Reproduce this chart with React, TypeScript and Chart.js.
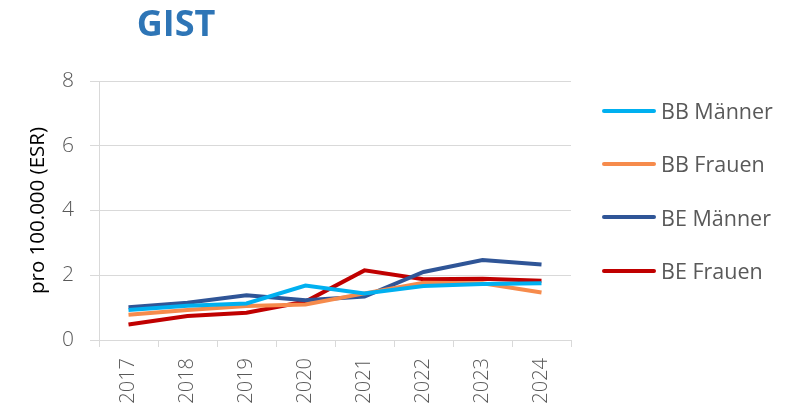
import React, { useEffect, useRef } from "react";
import { Chart, registerables } from "chart.js";

Chart.register(...registerables);

const years = ["2017", "2018", "2019", "2020", "2021", "2022", "2023", "2024"];
const bbMaenner = [0.93, 1.06, 1.13, 1.68, 1.44, 1.67, 1.73, 1.75];
const bbFrauen = [0.78, 0.93, 1.05, 1.1, 1.44, 1.77, 1.75, 1.47];
const beMaenner = [1.01, 1.15, 1.38, 1.23, 1.34, 2.1, 2.47, 2.33];
const beFrauen = [0.48, 0.74, 0.84, 1.19, 2.15, 1.88, 1.89, 1.83];
const seriesNames = ["BB Männer", "BB Frauen", "BE Männer", "BE Frauen"];
const seriesColors = ["#00B0F0", "#F68B4C", "#2F5597", "#C00000"];
const title = "GIST";
const yTitle = "pro 100.000 (ESR)";

const FONT = "'Open Sans', 'Noto Sans', sans-serif";

export default function App() {
  const ref = useRef<HTMLCanvasElement | null>(null);
  useEffect(() => {
    if (!ref.current) return;
    const values = [bbMaenner, bbFrauen, beMaenner, beFrauen];
    const chart = new Chart(ref.current, {
      type: "line",
      data: {
        labels: years,
        datasets: values.map((v, i) => ({
          label: seriesNames[i],
          data: v,
          borderColor: seriesColors[i],
          backgroundColor: seriesColors[i],
          borderWidth: 4,
          pointRadius: 0,
          tension: 0,
          fill: false,
        })),
      },
      options: {
        responsive: false,
        animation: false,
        layout: { padding: { top: 81, right: 226, left: 0, bottom: 0 } },
        plugins: {
          legend: { display: false },
          title: { display: false },
          tooltip: { enabled: false },
        },
        scales: {
          x: {
            offset: true,
            grid: {
              display: true,
              drawOnChartArea: false,
              drawTicks: true,
              tickLength: 7,
              color: "#d9d9d9",
              offset: true,
            },
            border: { display: true, color: "#d9d9d9" },
            ticks: {
              minRotation: 90,
              maxRotation: 90,
              padding: 11,
              color: "#595959",
              font: { family: FONT, size: 20, weight: "300" },
            },
            afterFit: (s: any) => {
              s.height = 70;
            },
          },
          y: {
            min: 0,
            max: 8,
            ticks: {
              stepSize: 2,
              padding: 16,
              color: "#595959",
              font: { family: FONT, size: 21, weight: "300" },
            },
            grid: { color: "#d9d9d9", tickLength: 9, drawTicks: true },
            border: { display: true, color: "#d9d9d9" },
            title: {
              display: true,
              text: yTitle,
              color: "#000000",
              padding: { top: 26, bottom: 4 },
              font: { family: FONT, size: 20.5 },
            },
            afterFit: (s: any) => {
              s.width = 99;
            },
          },
        },
      },
    });
    return () => chart.destroy();
  }, []);

  return (
    <div style={{ position: "absolute", left: 0, top: 0, width: 797, height: 410, background: "#fff", overflow: "hidden" }}>
      <canvas ref={ref} width={797} height={410} style={{ display: "block" }} />
      <div
        style={{
          position: "absolute",
          left: 76,
          width: 200,
          top: 0,
          textAlign: "center",
          fontFamily: FONT,
          fontWeight: 700,
          fontSize: 36,
          lineHeight: "46px",
          color: "#2E75B6",
        }}
      >
        {title}
      </div>
      {seriesNames.map((n, i) => (
        <div
          key={n}
          style={{
            position: "absolute",
            left: 602,
            top: 110.5 + i * 53.4 - 15,
            height: 30,
            display: "flex",
            alignItems: "center",
            fontFamily: FONT,
            fontSize: 21.5,
            color: "#595959",
            whiteSpace: "nowrap",
          }}
        >
          <span style={{ display: "inline-block", width: 54, height: 4, borderRadius: 2, background: seriesColors[i], marginRight: 5 }} />
          <span>{n}</span>
        </div>
      ))}
    </div>
  );
}
